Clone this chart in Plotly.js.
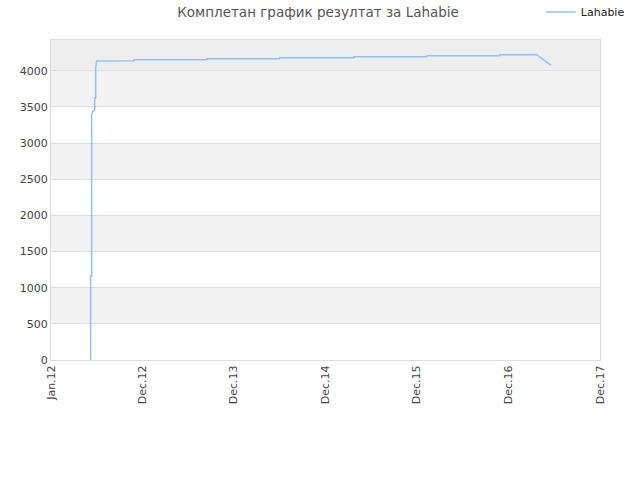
<!DOCTYPE html>
<html>
<head>
<meta charset="utf-8">
<script src="https://cdn.plot.ly/plotly-3.0.1.min.js"></script>
<style>
  html, body { margin: 0; padding: 0; background: #fff; }
  #chart { width: 640px; height: 480px; }
</style>
</head>
<body>
<div id="chart"></div>
<script>
// rating history
const dates = [
  '2012-06-05', '2012-06-05', '2012-06-09', '2012-06-09', '2012-06-14',
  '2012-06-21', '2012-06-21', '2012-06-25', '2012-06-25', '2012-06-29',
  '2012-11-22', '2012-11-23', '2013-09-04', '2013-09-05', '2014-06-18',
  '2014-06-19', '2015-04-06', '2015-04-07', '2016-01-19', '2016-01-20',
  '2016-11-01', '2016-11-02', '2017-03-27', '2017-05-22'
]
const ratings = [
  0, 1160, 1160, 3400, 3440,
  3455, 3625, 3625, 4045, 4135,
  4138, 4152, 4152, 4166, 4166,
  4180, 4180, 4194, 4194, 4207,
  4207, 4221, 4221, 4075
]

const tickDates = ['2012-01-01', '2012-12-26', '2013-12-21', '2014-12-16',
  '2015-12-11', '2016-12-06', '2017-12-01']
const tickLabels = ['Jan.12', 'Dec.12', 'Dec.13', 'Dec.14', 'Dec.15', 'Dec.16', 'Dec.17']
const yTicks = [0, 500, 1000, 1500, 2000, 2500, 3000, 3500, 4000]
const yMax = 4425

// alternating horizontal bands between the y ticks
const bands = []
for (let i = 0; i < yTicks.length; i++) {
  const lo = yTicks[i]
  const hi = i + 1 < yTicks.length ? yTicks[i + 1] : yMax
  let fill = i % 2 === 1 ? '#f3f3f3' : 'rgba(0,0,0,0)'
  if (i === yTicks.length - 1) fill = '#eeeeee'
  bands.push({
    type: 'rect', xref: 'paper', yref: 'y', x0: 0, x1: 1, y0: lo, y1: hi,
    fillcolor: fill, line: { width: 0 }, layer: 'below'
  })
}

Plotly.newPlot('chart', [
  {
    name: 'Lahabie',
    type: 'scatter',
    mode: 'lines',
    x: dates,
    y: ratings,
    line: { color: '#90c2f4', width: 1.5 }
  }
], {
  width: 640,
  height: 480,
  font: { family: 'DejaVu Sans, sans-serif', size: 11, color: '#444' },
  title: {
    text: 'Комплетан график резултат за Lahabie',
    font: { family: 'DejaVu Sans, sans-serif', size: 13.5, color: '#555' },
    x: 0.497, xanchor: 'center', y: 0.975, yanchor: 'middle'
  },
  // keep the plot box fixed, the legend sits outside it
  margin: { l: 51, r: 40, t: 40, b: 120, autoexpand: false },
  paper_bgcolor: '#fff',
  plot_bgcolor: '#fff',
  showlegend: true,
  legend: {
    xref: 'container', yref: 'container',
    x: 0.845, xanchor: 'left', y: 0.975, yanchor: 'middle',
    font: { size: 11, color: '#222' }, itemwidth: 30, bgcolor: 'rgba(0,0,0,0)'
  },
  shapes: bands,
  xaxis: {
    type: 'date',
    range: [tickDates[0], tickDates[tickDates.length - 1]],
    tickmode: 'array',
    tickvals: tickDates,
    ticktext: tickLabels,
    tickangle: -90,
    showgrid: false,
    zeroline: false,
    showline: true,
    linecolor: '#dddddd',
    mirror: true,
    ticks: '',
    tickfont: { size: 11, color: '#444' }
  },
  yaxis: {
    range: [0, yMax],
    tickmode: 'array',
    tickvals: yTicks,
    showgrid: true,
    gridcolor: '#dddddd',
    zeroline: false,
    showline: true,
    linecolor: '#dddddd',
    mirror: true,
    ticks: '',
    tickfont: { size: 11, color: '#444' }
  }
}, { displayModeBar: false, staticPlot: true })
</script>
</body>
</html>
